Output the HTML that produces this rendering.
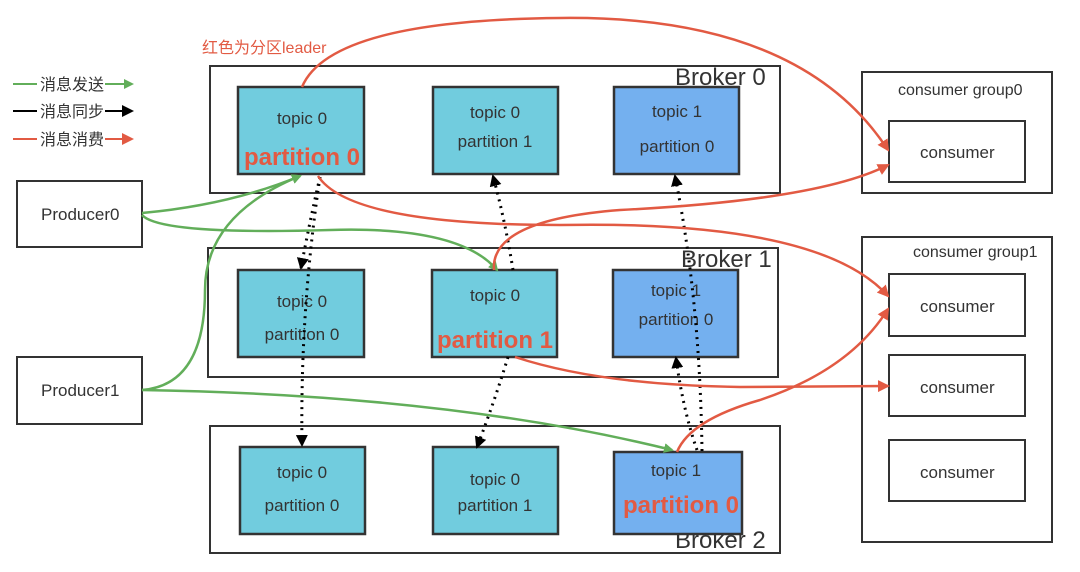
<!DOCTYPE html>
<html><head><meta charset="utf-8"><style>
html,body{margin:0;padding:0;background:#fff;}
svg text{font-family:"Liberation Sans","Noto Sans CJK SC",sans-serif;}
</style></head><body>
<svg width="1080" height="567" viewBox="0 0 1080 567" xmlns="http://www.w3.org/2000/svg">
<defs>
<marker id="ag" markerWidth="10" markerHeight="10" refX="8" refY="5" orient="auto" markerUnits="userSpaceOnUse"><path d="M0,0 L10,5 L0,10 z" fill="#62AE5A"/></marker>
<marker id="ar" markerWidth="12" markerHeight="12" refX="10" refY="6" orient="auto" markerUnits="userSpaceOnUse"><path d="M0,0 L12,6 L0,12 z" fill="#E25A43"/></marker>
<marker id="ab" markerWidth="12" markerHeight="12" refX="10" refY="6" orient="auto" markerUnits="userSpaceOnUse"><path d="M0,0 L12,6 L0,12 z" fill="#000"/></marker>
</defs>
<!-- legend -->
<g font-size="16" fill="#333">
<line x1="13" y1="84" x2="37" y2="84" stroke="#62AE5A" stroke-width="2"/><text x="40" y="90">消息发送</text><line x1="105" y1="84" x2="132" y2="84" stroke="#62AE5A" stroke-width="2" marker-end="url(#ag)"/>
<line x1="13" y1="111" x2="37" y2="111" stroke="#000" stroke-width="2"/><text x="40" y="117">消息同步</text><line x1="105" y1="111" x2="132" y2="111" stroke="#000" stroke-width="2" marker-end="url(#ab)"/>
<line x1="13" y1="139" x2="37" y2="139" stroke="#E25A43" stroke-width="2"/><text x="40" y="145">消息消费</text><line x1="105" y1="139" x2="132" y2="139" stroke="#E25A43" stroke-width="2" marker-end="url(#ar)"/>
</g>
<text x="202" y="53" font-size="16" fill="#E25A43">红色为分区leader</text>
<!-- brokers -->
<g fill="none" stroke="#333" stroke-width="2">
<rect x="210" y="66" width="570" height="127"/>
<rect x="208" y="248" width="570" height="129"/>
<rect x="210" y="426" width="570" height="127"/>
<rect x="17" y="181" width="125" height="66"/>
<rect x="17" y="357" width="125" height="67"/>
<rect x="862" y="72" width="190" height="121"/>
<rect x="889" y="121" width="136" height="61"/>
<rect x="862" y="237" width="190" height="305"/>
<rect x="889" y="274" width="136" height="62"/>
<rect x="889" y="355" width="136" height="61"/>
<rect x="889" y="440" width="136" height="61"/>
</g>
<g font-size="24" fill="#333"><text x="675" y="85">Broker 0</text><text x="681" y="267">Broker 1</text><text x="675" y="548">Broker 2</text></g>
<g font-size="17" fill="#333">
<text x="41" y="220">Producer0</text><text x="41" y="396">Producer1</text>
<text x="898" y="95" font-size="16">consumer group0</text><text x="913" y="257" font-size="16">consumer group1</text>
<text x="920" y="158">consumer</text><text x="920" y="312">consumer</text><text x="920" y="393">consumer</text><text x="920" y="478">consumer</text>
</g>
<!-- partitions -->
<g stroke="#333" stroke-width="2.5">
<rect x="238" y="87" width="126" height="87" fill="#71CCDE"/>
<rect x="433" y="87" width="125" height="87" fill="#71CCDE"/>
<rect x="614" y="87" width="125" height="87" fill="#74B0EF"/>
<rect x="238" y="270" width="126" height="87" fill="#71CCDE"/>
<rect x="432" y="270" width="125" height="87" fill="#71CCDE"/>
<rect x="613" y="270" width="125" height="87" fill="#74B0EF"/>
<rect x="240" y="447" width="125" height="87" fill="#71CCDE"/>
<rect x="433" y="447" width="125" height="87" fill="#71CCDE"/>
<rect x="614" y="452" width="128" height="82" fill="#74B0EF"/>
</g>
<g font-size="17" fill="#333" text-anchor="middle">
<text x="302" y="124">topic 0</text>
<text x="495" y="118">topic 0</text><text x="495" y="147">partition 1</text>
<text x="677" y="117">topic 1</text><text x="677" y="152">partition 0</text>
<text x="302" y="307">topic 0</text><text x="302" y="340">partition 0</text>
<text x="495" y="301">topic 0</text>
<text x="676" y="296">topic 1</text><text x="676" y="325">partition 0</text>
<text x="302" y="478">topic 0</text><text x="302" y="511">partition 0</text>
<text x="495" y="485">topic 0</text><text x="495" y="511">partition 1</text>
<text x="676" y="476">topic 1</text>
</g>
<g font-size="24" font-weight="bold" fill="#E25A43" text-anchor="middle">
<text x="302" y="165">partition 0</text><text x="495" y="348">partition 1</text><text x="681" y="513">partition 0</text>
</g>
<!-- sync dotted -->
<g fill="none" stroke="#000" stroke-width="3" stroke-dasharray="2,5">
<path d="M320,177 Q310,220 301,268" marker-end="url(#ab)"/>
<path d="M320,177 Q300,310 302,445" marker-end="url(#ab)"/>
<path d="M513,270 Q505,220 493,176" marker-end="url(#ab)"/>
<path d="M508,357 Q495,400 477,447" marker-end="url(#ab)"/>
<path d="M702,451 Q700,300 675,176" marker-end="url(#ab)"/>
<path d="M697,450 Q683,410 676,358" marker-end="url(#ab)"/>
</g>
<!-- send green -->
<g fill="none" stroke="#62AE5A" stroke-width="2.5">
<path d="M142,213 Q230,205 300,176" marker-end="url(#ag)"/>
<path d="M142,215 Q160,235 330,230 Q460,226 497,270" marker-end="url(#ag)"/>
<path d="M142,390 Q205,385 205,290 Q205,215 300,176" marker-end="url(#ag)"/>
<path d="M142,390 Q450,395 672,450" marker-end="url(#ag)"/>
</g>
<!-- consume red -->
<g fill="none" stroke="#E25A43" stroke-width="2.5">
<path d="M302,87 Q330,20 560,18 Q800,15 888,150" marker-end="url(#ar)"/>
<path d="M318,176 Q350,225 560,225 Q820,220 888,296" marker-end="url(#ar)"/>
<path d="M494,270 Q490,220 620,210 Q820,200 888,165" marker-end="url(#ar)"/>
<path d="M515,357 Q600,385 740,387 L888,386" marker-end="url(#ar)"/>
<path d="M677,452 Q690,420 760,400 Q850,370 888,309" marker-end="url(#ar)"/>
</g>
</svg>
</body></html>
